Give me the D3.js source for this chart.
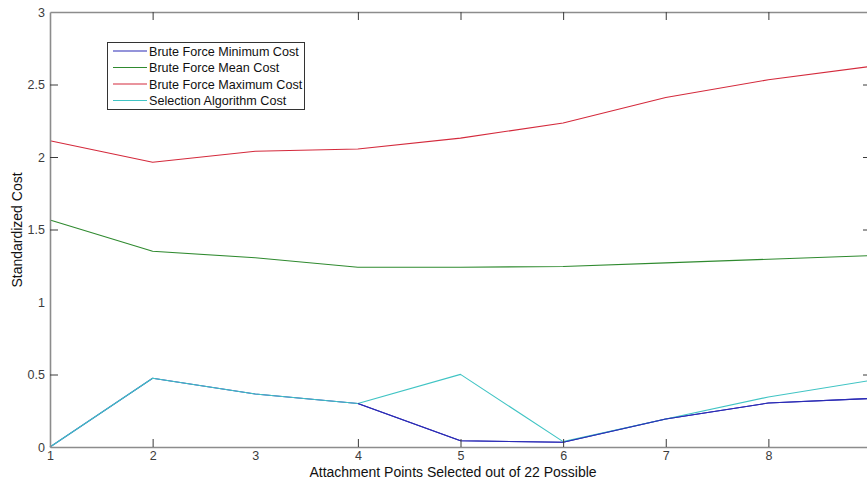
<!DOCTYPE html>
<html>
<head>
<meta charset="utf-8">
<script src="https://cdn.jsdelivr.net/npm/d3@7"></script>
<style>
  html, body { margin: 0; padding: 0; background: #fff; overflow: hidden; }
  svg { display: block; font-family: "Liberation Sans", Arial, sans-serif; }
</style>
</head>
<body>
<svg id="chart" width="867" height="485"></svg>
<script>
// Attachment points selected (x axis)
const attachmentPoints = [1, 2, 3, 4, 5, 6, 7, 8, 9];

// Standardized cost per number of attachment points
const bruteMinCost  = [0.000, 0.474, 0.366, 0.300, 0.043, 0.033, 0.193, 0.303, 0.335];
const bruteMeanCost = [1.566, 1.350, 1.305, 1.240, 1.240, 1.245, 1.270, 1.295, 1.320];
const bruteMaxCost  = [2.112, 1.964, 2.040, 2.055, 2.130, 2.235, 2.410, 2.533, 2.625];
const selectionCost = [0.000, 0.474, 0.366, 0.300, 0.501, 0.037, 0.193, 0.345, 0.460];

const seriesNames  = ["Brute Force Minimum Cost", "Brute Force Mean Cost",
                      "Brute Force Maximum Cost", "Selection Algorithm Cost"];
const seriesColors = ["#2b2bb5", "#2f8a2f", "#d42a3c", "#40c4c4"];

const yTicks = [0, 0.5, 1, 1.5, 2, 2.5, 3];
const xTicks = [1, 2, 3, 4, 5, 6, 7, 8, 9];

const series = [bruteMinCost, bruteMeanCost, bruteMaxCost, selectionCost];

const svg = d3.select("#chart");
const plot = { left: 50, right: 871, top: 12, bottom: 447 };

const x = d3.scaleLinear().domain([1, 9]).range([plot.left, plot.right]);
const y = d3.scaleLinear().domain([0, 3]).range([plot.bottom, plot.top]);

const line = d3.line()
  .x((d, i) => x(attachmentPoints[i]))
  .y(d => y(d));

// Draw order: min first, then mean, max, selection on top
series.forEach((vals, k) => {
  svg.append("path")
    .datum(vals)
    .attr("d", line)
    .attr("fill", "none")
    .attr("stroke", seriesColors[k])
    .attr("stroke-width", 1.1)
    .attr("stroke-linejoin", "round");
});

// Redraw the minimum-cost segments where they diverge from the selection line
function minSegment(from, to) {
  svg.append("path")
    .datum(bruteMinCost.slice(from, to))
    .attr("d", d3.line().x((d, i) => x(attachmentPoints[i + from])).y(d => y(d)))
    .attr("fill", "none")
    .attr("stroke", seriesColors[0])
    .attr("stroke-width", 1.1);
}
minSegment(3, 7);
minSegment(6, 9);

// Axes (MATLAB-style: inward ticks, boxed)
const tickLen = 8;
const bottomAxis = d3.axisBottom(x).tickValues(xTicks).tickSizeInner(-tickLen).tickSizeOuter(0)
  .tickPadding(4).tickFormat(d3.format("d"));
const leftAxis = d3.axisLeft(y).tickValues(yTicks).tickSizeInner(-tickLen).tickSizeOuter(0)
  .tickPadding(5).tickFormat(d => d3.format("")(d));
const topAxis = d3.axisTop(x).tickValues(xTicks).tickSizeInner(-tickLen).tickSizeOuter(0).tickFormat("");
const rightAxis = d3.axisRight(y).tickValues(yTicks).tickSizeInner(-tickLen).tickSizeOuter(0).tickFormat("");

function styleAxis(g) {
  g.select(".domain").attr("stroke", "#8c8c8c").attr("stroke-width", 1.6);
  g.selectAll(".tick line").attr("stroke", "#3a3a3a").attr("stroke-width", 1);
  g.selectAll(".tick text").attr("fill", "#3c3c3c").style("font-size", "12.5px")
    .style("font-family", "'Liberation Sans', Arial, sans-serif");
}

svg.append("g").attr("transform", `translate(0,${plot.bottom})`).call(bottomAxis).call(styleAxis);
svg.append("g").attr("transform", `translate(${plot.left},0)`).call(leftAxis).call(styleAxis);
svg.append("g").attr("transform", `translate(0,${plot.top})`).call(topAxis).call(styleAxis);
svg.append("g").attr("transform", `translate(${plot.right},0)`).call(rightAxis).call(styleAxis);

// No tick marks on the box corners
svg.selectAll(".tick").filter(d => d === 0 || d === 1 || d === 3 || d === 9)
  .select("line").attr("stroke-opacity", 0);

// Axis titles
svg.append("text")
  .attr("x", 453).attr("y", 477)
  .attr("text-anchor", "middle")
  .attr("fill", "#111")
  .style("font-size", "14px")
  .text("Attachment Points Selected out of 22 Possible");

svg.append("text")
  .attr("transform", "translate(22,230) rotate(-90)")
  .attr("text-anchor", "middle")
  .attr("fill", "#111")
  .style("font-size", "14px")
  .text("Standardized Cost");

// Legend
const legend = svg.append("g");
legend.append("rect")
  .attr("x", 107.5).attr("y", 42.5).attr("width", 197).attr("height", 67)
  .attr("fill", "#fff").attr("stroke", "#333").attr("stroke-width", 1);

seriesNames.forEach((name, k) => {
  const ly = 51 + k * 16.5;
  legend.append("line")
    .attr("x1", 113).attr("x2", 147).attr("y1", ly).attr("y2", ly)
    .attr("stroke", seriesColors[k]).attr("stroke-width", 1.1);
  legend.append("text")
    .attr("x", 149).attr("y", ly + 4.5)
    .attr("fill", "#111")
    .style("font-size", "12.6px")
    .text(name);
});
</script>
</body>
</html>
